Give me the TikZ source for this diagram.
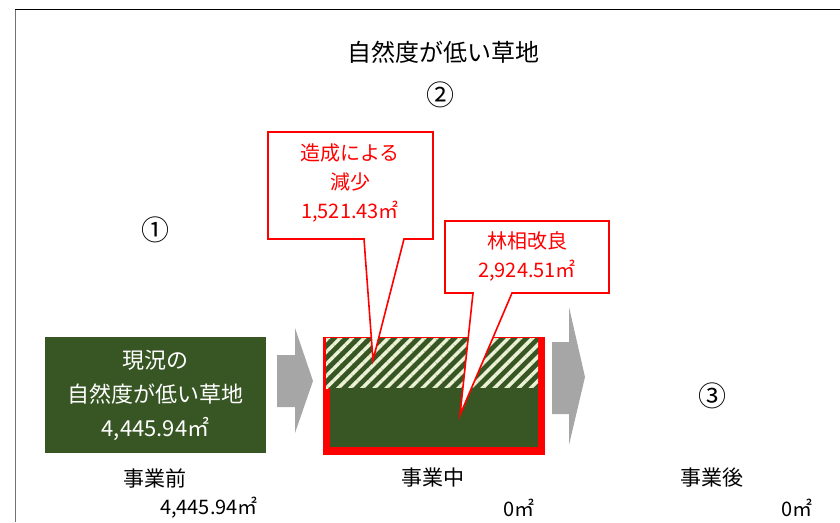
\documentclass[tikz,border=0pt]{standalone}
\usepackage{fontspec}
\setmainfont{Noto Sans CJK JP}
\usetikzlibrary{patterns.meta}
\definecolor{grassgreen}{RGB}{55,86,35}
\definecolor{arrowgray}{RGB}{166,166,166}
\definecolor{stripecream}{RGB}{236,242,214}

\begin{document}
\begin{tikzpicture}[
    x=1pt, y=-1pt,
    heading/.style={font=\fontsize{24}{28}\selectfont},
    stepnum/.style={font=\fontsize{28}{30}\selectfont},
    stagefont/.style={font=\fontsize{21}{26}\selectfont},
    areafont/.style={font=\fontsize{20}{24}\selectfont, anchor=east, inner sep=0pt},
    boxtext/.style={white, align=center, font=\fontsize{22}{34}\selectfont},
    callouttext/.style={red, align=center, font=\fontsize{20}{29}\selectfont},
    callout/.style={draw=red, line width=1.6pt, fill=white, line join=miter},
    flow/.style={fill=arrowgray, draw=none}
]

\useasboundingbox (0,0) rectangle (840,522);

% Outer frame (left and top edge only)
\draw[black!55, line width=1pt] (15,522) -- (15,9);
\draw[black, line width=1pt] (15,9) -- (840,9);

% Title and step numbers
\node[heading] (title) at (443,52) {自然度が低い草地};
\node[stepnum] (num2) at (440,95) {②};
\node[stepnum] (num1) at (155,230) {①};
\node[stepnum] (num3) at (712,396) {③};

% Before: existing grassland
\node[fill=grassgreen, minimum width=221, minimum height=116, inner sep=0pt] (before) at (155.5,395) {};
\node[boxtext] (beforetext) at (before.center) {現況の\\自然度が低い草地\\4,445.94㎡};

% Block arrows between the stages
\foreach \x/\bt/\bb/\hx/\ht/\hb/\tx/\ty in {277/355/407/295/328/433/313/381, 552/342/414/569/307/445/585/377} {
    \fill[flow] (\x,\bt) -- (\hx,\bt) -- (\hx,\ht) -- (\tx,\ty) -- (\hx,\hb) -- (\hx,\bb) -- (\x,\bb) -- cycle;
}

% During: red frame, hatched part removed, green part kept
\node[fill=red, minimum width=222, minimum height=118, inner sep=0pt] (during) at (434,396) {};
\fill[grassgreen] (326,338) rectangle (538,388);
\fill[pattern={Lines[angle=45, distance=8.5pt, line width=3.4pt]}, pattern color=stripecream] (326,338) rectangle (538,388);
\fill[grassgreen] (330,388) rectangle (538,447);

% Callout for the cleared area
\coordinate (cuttip) at (373,360);
\draw[callout] (268,132) -- (433,132) -- (433,239) -- (404,239) -- (cuttip) -- (364,239) -- (268,239) -- cycle;
\node[callouttext] (cut) at (350,183) {造成による\\減少\\1,521.43㎡};

% Callout for the improved forest
\coordinate (foresttip) at (460,415);
\draw[callout] (445,221) -- (609,221) -- (609,293) -- (512,293) -- (foresttip) -- (473,293) -- (445,293) -- cycle;
\node[callouttext] (forest) at (527,256) {林相改良\\2,924.51㎡};

% Stage names and areas below
\foreach \nm/\cx/\lab/\rx/\area in {pre/155/事業前/258/{4,445.94㎡}, mid/433/事業中/535/0㎡, post/712/事業後/813/0㎡} {
    \node[stagefont] (stage\nm) at (\cx,478) {\lab};
    \node[areafont] (area\nm) at (\rx,508) {\area};
}

\end{tikzpicture}
\end{document}
